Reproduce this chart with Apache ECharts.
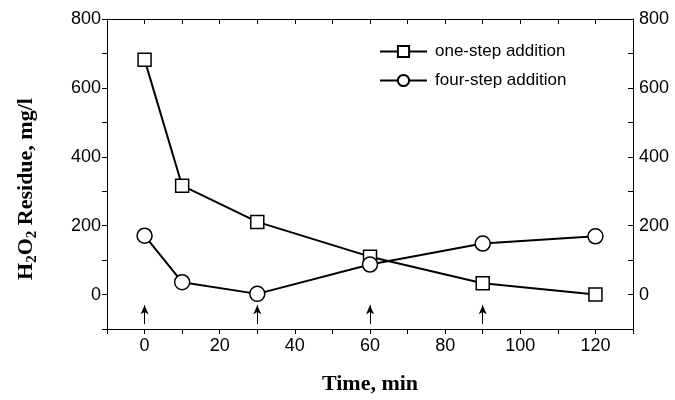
<!DOCTYPE html>
<html>
<head>
<meta charset="utf-8">
<script src="https://cdn.jsdelivr.net/npm/echarts@6/dist/echarts.min.js"></script>
<style>html,body{margin:0;padding:0;background:#fff;}#c{width:675px;height:400px;}</style>
</head>
<body>
<div id="c"></div>
<script>
const timeOne = [0, 10, 30, 60, 90, 120];
const oneStep = [682, 316, 211, 110, 33, 0];
const timeFour = [0, 10, 30, 60, 90, 120];
const fourStep = [171, 36, 2, 87, 148, 169];
const arrowTimes = [0, 30, 60, 90];
const arrowFrom = -86;
const arrowTo = -31;
const xTickLabels = [0, 20, 40, 60, 80, 100, 120];
const yTickLabels = [0, 200, 400, 600, 800];
const seriesNames = ['one-step addition', 'four-step addition'];

const chart = echarts.init(document.getElementById('c'), null, {renderer: 'canvas'});
const lblFont = {fontFamily: 'Liberation Sans, Arial', fontSize: 18, color: '#000'};
const axLine = {show: true, onZero: false, lineStyle: {color: '#000', width: 1}};

function pairs(xs, ys) { return xs.map((x, i) => [x, ys[i]]); }

const yBase = {
  type: 'value', min: -100, max: 800, interval: 100,
  axisLine: axLine, splitLine: {show: false},
  axisLabel: Object.assign({customValues: yTickLabels, margin: 6}, lblFont),
};

const option = {
  animation: false,
  backgroundColor: '#fff',
  grid: {left: 107, right: 42, top: 19, bottom: 65, containLabel: false},
  legend: {
    orient: 'vertical', left: 374, top: 38,
    itemWidth: 47, itemHeight: 14, itemGap: 12,
    textStyle: {fontFamily: 'Liberation Sans, Arial', fontSize: 17, color: '#000', padding: [0, 0, 0, 3]},
    data: seriesNames
  },
  xAxis: [{
    type: 'value', min: -10, max: 130, interval: 10, position: 'bottom',
    axisLine: axLine, splitLine: {show: false},
    axisTick: {show: true, inside: false, length: 5, lineStyle: {color: '#000'}},
    axisLabel: Object.assign({customValues: xTickLabels, margin: 8}, lblFont),
    name: 'Time, min', nameLocation: 'middle', nameGap: 44,
    nameTextStyle: {fontFamily: 'Liberation Serif, Times New Roman', fontWeight: 'bold', fontSize: 22, color: '#000'}
  }, {
    type: 'value', min: -10, max: 130, interval: 10, position: 'top',
    axisLine: axLine, splitLine: {show: false},
    axisTick: {show: true, inside: true, length: 5, lineStyle: {color: '#000'}},
    axisLabel: {show: false}
  }],
  yAxis: [Object.assign({}, yBase, {
    position: 'left',
    axisTick: {show: true, inside: false, length: 5, lineStyle: {color: '#000'}},
    name: '{b|H}{s|2}{b|O}{s|2}{b| Residue, mg/l}',
    nameLocation: 'middle', nameRotate: 90, nameGap: 70,
    nameTextStyle: {
      padding: [0, 30, 0, 0],
      rich: {
        b: {fontFamily: 'Liberation Serif, Times New Roman', fontWeight: 'bold', fontSize: 22, color: '#000', lineHeight: 26, verticalAlign: 'bottom'},
        s: {fontFamily: 'Liberation Serif, Times New Roman', fontWeight: 'bold', fontSize: 15, color: '#000', lineHeight: 15, verticalAlign: 'bottom', padding: [0, 0, -3, 0]}
      }
    }
  }), Object.assign({}, yBase, {
    position: 'right',
    axisTick: {show: true, inside: true, length: 5, lineStyle: {color: '#000'}}
  })],
  series: [{
    name: seriesNames[0], type: 'line', data: pairs(timeOne, oneStep),
    symbol: 'rect', symbolSize: 13,
    lineStyle: {color: '#000', width: 2},
    itemStyle: {color: '#fff', borderColor: '#000', borderWidth: 1.5},
    z: 3
  }, {
    name: seriesNames[1], type: 'line', data: pairs(timeFour, fourStep),
    symbol: 'circle', symbolSize: 15,
    lineStyle: {color: '#000', width: 2},
    itemStyle: {color: '#fff', borderColor: '#000', borderWidth: 1.5},
    z: 3
  }, {
    name: 'arrows', type: 'line', data: [],
    markLine: {
      silent: true, symbol: ['none', 'arrow'], symbolSize: [6, 9],
      label: {show: false},
      lineStyle: {color: '#000', width: 1, type: 'solid'},
      data: arrowTimes.map(t => [{coord: [t, arrowFrom]}, {coord: [t, arrowTo]}])
    }
  }]
};
chart.setOption(option);
</script>
</body>
</html>
